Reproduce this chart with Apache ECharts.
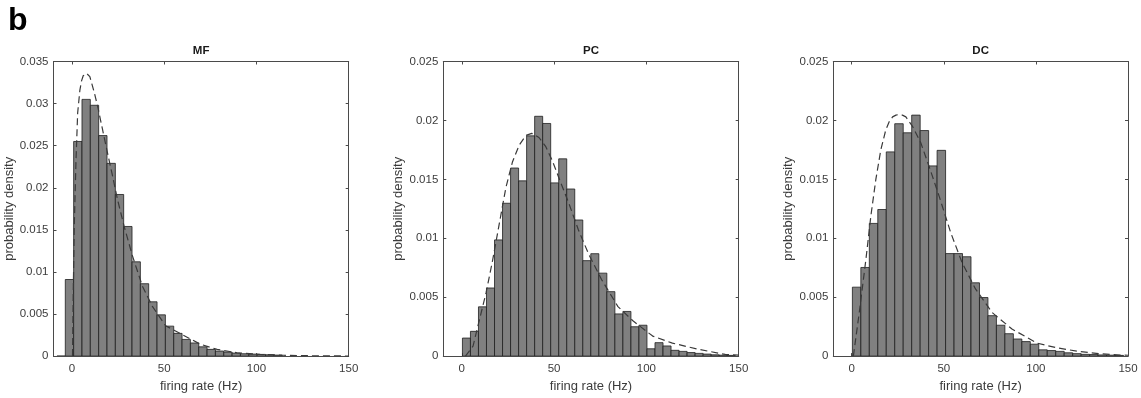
<!DOCTYPE html>
<html>
<head>
<meta charset="utf-8">
<script src="https://cdn.jsdelivr.net/npm/echarts@6/dist/echarts.min.js"></script>
<style>
html,body{margin:0;padding:0;background:#fff;}
#chart{width:1141px;height:398px;}
</style>
</head>
<body>
<div id="chart"></div>
<script>
// ---------- data ----------
const panelTitles = ['MF', 'PC', 'DC'];
const xTicks = [0, 50, 100, 150];
const yMax = [0.035, 0.025, 0.025];

// histogram bins: first left edge and bin width (Hz), densities per bin
const mfBinStart = -8.12, mfBinWidth = 4.52;
const mfDensity = [0, 0.0091, 0.0255, 0.0305, 0.0298, 0.0262, 0.0229, 0.0192, 0.0154, 0.0112, 0.0086,
  0.00645, 0.0049, 0.00356, 0.0027, 0.00198, 0.00156, 0.0011, 0.0008, 0.0006, 0.00048,
  0.00036, 0.00028, 0.00024, 0.0002, 0.00016, 0.00012];

const pcBinStart = 0.36, pcBinWidth = 4.346;
const pcDensity = [0.00153, 0.0021, 0.00418, 0.00578, 0.00986, 0.01297, 0.01596, 0.01487, 0.01869, 0.02035,
  0.01974, 0.0147, 0.01674, 0.01418, 0.01155, 0.0081, 0.00869, 0.00704, 0.00547, 0.00358,
  0.00379, 0.00249, 0.00262, 0.00062, 0.00114, 0.00086, 0.00049, 0.0004, 0.0003, 0.00023,
  0.00017, 0.00011, 0.00008, 0.00006];

const dcBinStart = 0.36, dcBinWidth = 4.6;
const dcDensity = [0.00585, 0.00752, 0.01126, 0.01244, 0.01733, 0.01972, 0.01895, 0.02045, 0.01914, 0.01614,
  0.01746, 0.0087, 0.0087, 0.00843, 0.00622, 0.00497, 0.00343, 0.00262, 0.0019, 0.00145,
  0.00123, 0.00101, 0.00053, 0.00047, 0.0004, 0.00028, 0.00021, 0.00015, 0.00013, 0.0001,
  0.00008, 0.00006];

// fitted density curves (dashed)
const mfFitX = [0.3, 0.4, 0.7, 1.25, 2.2, 3.1, 4.3, 5.2, 6.1, 7.0, 7.9, 8.8, 9.7, 12.0, 13.9, 16.6, 19.3, 22.0, 24.7,
  28.3, 32.8, 38.2, 43.6, 50.8, 60.2, 69.7, 78.7, 89.5, 102, 114.5, 130, 150];
const mfFitY = [0, 0.0002, 0.0075, 0.0154, 0.0233, 0.0289, 0.0316, 0.0327, 0.0333, 0.0335, 0.0336, 0.0335, 0.0332, 0.0314, 0.0297,
  0.0269, 0.0241, 0.0214, 0.0186, 0.0154, 0.0119, 0.0083, 0.0059, 0.0036, 0.0025, 0.0014, 0.0008,
  0.0004, 0.0002, 0.0001, 0.00004, 0.00001];

const pcFitX = [2.0, 3.0, 6.1, 9.6, 13.2, 16.8, 20.4, 23.9, 27.5, 31.1, 34.7, 37.9, 41.8, 45.4, 49, 53.4,
  57.9, 63.2, 68.6, 75.7, 84.6, 92.7, 103.4, 114.1, 128.4, 142.7, 150];
const pcFitY = [0, 0.0001, 0.00085, 0.0031, 0.0054, 0.0082, 0.0113, 0.0143, 0.0165, 0.0179, 0.01872, 0.0189,
  0.01855, 0.0178, 0.0166, 0.0148, 0.0130, 0.0107, 0.0087, 0.0065, 0.0042, 0.0030, 0.0017, 0.0011,
  0.00057, 0.00014, 0.00008];

const dcFitX = [0.9, 4.1, 7.7, 10.4, 13.1, 15.8, 18.5, 20.4, 22.2, 24.0, 25.7, 27.5, 29.4, 33, 37.5, 42, 47.4, 53.7, 60,
  67.2, 76.2, 87, 100.6, 111.4, 122.2, 134.8, 147.4, 150];
const dcFitY = [0, 0.0037, 0.0082, 0.0119, 0.0150, 0.0175, 0.0192, 0.0199, 0.0203, 0.02045, 0.0205, 0.02045, 0.0203, 0.0195, 0.0181,
  0.0161, 0.0136, 0.0105, 0.0079, 0.0057, 0.0037, 0.0023, 0.0011, 0.0007, 0.00042, 0.0002, 0.00008, 0.00007];

// ---------- build ----------
function bins(start, width, dens) {
  return dens.map((d, i) => [start + i * width, start + (i + 1) * width, d]);
}
function pairs(xs, ys) { return xs.map((x, i) => [x, ys[i]]); }

const histData = [
  bins(mfBinStart, mfBinWidth, mfDensity),
  bins(pcBinStart, pcBinWidth, pcDensity),
  bins(dcBinStart, dcBinWidth, dcDensity)
];
const fitData = [pairs(mfFitX, mfFitY), pairs(pcFitX, pcFitY), pairs(dcFitX, dcFitY)];

const gridPos = [
  { left: 53.5, top: 61.5, width: 295.2, height: 295.2 },
  { left: 443.3, top: 61.5, width: 295.4, height: 295.2 },
  { left: 833.3, top: 61.5, width: 294.7, height: 295.2 }
];

const axisColor = '#4a4a4a';
const labelColor = '#3c3c3c';
const fontFam = '"Liberation Sans", Arial, Helvetica, sans-serif';

const grids = [], xAxes = [], yAxes = [], series = [], graphics = [];

gridPos.forEach((g, i) => {
  grids.push(Object.assign({ containLabel: false }, g));
  const common = {
    gridIndex: i, type: 'value', min: -10, max: 150,
    axisLine: { show: true, onZero: false, lineStyle: { color: axisColor, width: 1 } },
    splitLine: { show: false }
  };
  xAxes.push(Object.assign({}, common, {
    position: 'bottom',
    name: 'firing rate (Hz)', nameLocation: 'middle', nameGap: 22,
    nameTextStyle: { fontSize: 13, color: labelColor, fontFamily: fontFam },
    axisTick: { show: true, inside: true, length: 3, customValues: xTicks, lineStyle: { color: axisColor } },
    axisLabel: { show: true, customValues: xTicks, fontSize: 11.5, color: labelColor, fontFamily: fontFam, margin: 7 }
  }));
  xAxes.push(Object.assign({}, common, {
    position: 'top',
    axisTick: { show: true, inside: true, length: 3, customValues: xTicks, lineStyle: { color: axisColor } },
    axisLabel: { show: false }
  }));
  const ycommon = {
    gridIndex: i, type: 'value', min: 0, max: yMax[i], interval: 0.005,
    axisLine: { show: true, onZero: false, lineStyle: { color: axisColor, width: 1 } },
    splitLine: { show: false },
    axisTick: { show: true, inside: true, length: 3, lineStyle: { color: axisColor } }
  };
  yAxes.push(Object.assign({}, ycommon, {
    position: 'left',
    name: 'probability density', nameLocation: 'middle', nameGap: 38,
    nameTextStyle: { fontSize: 13, color: labelColor, fontFamily: fontFam },
    axisLabel: {
      show: true, fontSize: 11.5, color: labelColor, fontFamily: fontFam, margin: 5,
      formatter: v => String(+v.toFixed(3))
    }
  }));
  yAxes.push(Object.assign({}, ycommon, { position: 'right', axisLabel: { show: false } }));

  series.push({
    type: 'custom',
    xAxisIndex: i * 2, yAxisIndex: i * 2,
    data: histData[i],
    encode: { x: [0, 1], y: 2 },
    clip: true,
    renderItem: function (params, api) {
      const p0 = api.coord([api.value(0), api.value(2)]);
      const p1 = api.coord([api.value(1), 0]);
      return {
        type: 'rect',
        shape: { x: p0[0], y: p0[1], width: p1[0] - p0[0], height: p1[1] - p0[1] },
        style: { fill: '#808080', stroke: '#1e1e1e', lineWidth: 0.8 }
      };
    },
    silent: true
  });
  series.push({
    type: 'line',
    xAxisIndex: i * 2, yAxisIndex: i * 2,
    data: fitData[i],
    showSymbol: false, symbol: 'none',
    smooth: false,
    lineStyle: { color: '#3a3a3a', width: 1.2, type: [7, 4] },
    z: 5, silent: true, animation: false
  });

  graphics.push({
    type: 'text',
    x: g.left + g.width / 2, y: 50.5,
    style: {
      text: panelTitles[i], textAlign: 'center', textVerticalAlign: 'middle',
      font: 'bold 11.5px ' + fontFam, fill: '#1a1a1a'
    }
  });
});

graphics.push({
  type: 'text', x: 8, y: 21,
  style: { text: 'b', textAlign: 'left', textVerticalAlign: 'middle', font: 'bold 32px ' + fontFam, fill: '#000' }
});

const chart = echarts.init(document.getElementById('chart'), null, { renderer: 'canvas' });
chart.setOption({
  animation: false,
  backgroundColor: '#fff',
  grid: grids,
  xAxis: xAxes,
  yAxis: yAxes,
  series: series,
  graphic: graphics
});
</script>
</body>
</html>
